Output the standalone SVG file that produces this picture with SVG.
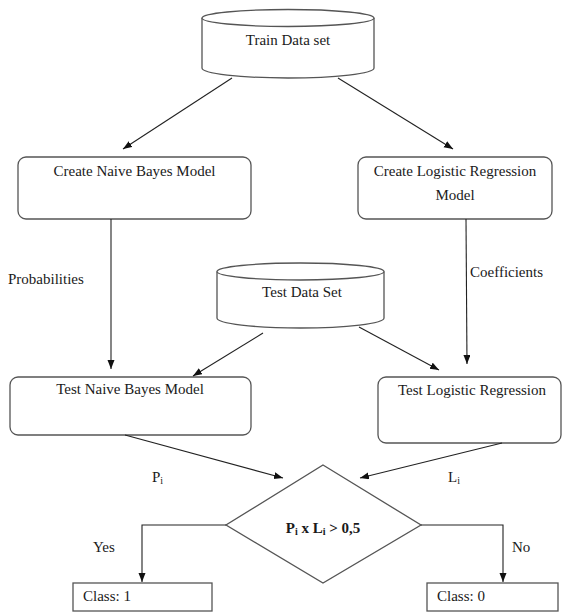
<svg xmlns="http://www.w3.org/2000/svg" width="563" height="612" viewBox="0 0 563 612">
<defs>
<marker id="arr" markerUnits="userSpaceOnUse" markerWidth="10" markerHeight="8" refX="9" refY="3.5" orient="auto">
<path d="M0,0 L9,3.5 L0,7 z" fill="#111"/>
</marker>
<style>
text{font-family:"Liberation Serif","Times New Roman",serif;font-size:15px;fill:#1a1a1a}
.box{fill:#fff;stroke:#555;stroke-width:1.3}
.ln{fill:none;stroke:#222;stroke-width:1.1}
.arrow{fill:none;stroke:#222;stroke-width:1.1;marker-end:url(#arr)}
.mid{text-anchor:middle}
.sub{font-size:10px}
</style>
</defs>
<rect width="563" height="612" fill="#fff"/>

<g id="train">
<path class="box" d="M202,18 L202,68 A86,10 0 0 0 374,68 L374,18"/>
<ellipse class="box" cx="288" cy="18" rx="86" ry="8.5"/>
<text class="mid" x="288" y="45">Train Data set</text>
</g>

<g id="create-nb">
<rect class="box" x="18" y="157" width="233" height="62" rx="8"/>
<text class="mid" x="134.5" y="176">Create Naive Bayes Model</text>
</g>

<g id="create-lr">
<rect class="box" x="358" y="157" width="194" height="62" rx="8"/>
<text class="mid" x="455" y="176">Create Logistic Regression</text>
<text class="mid" x="455" y="200">Model</text>
</g>

<g id="test-data">
<path class="box" d="M217,271.5 L217,318 A83.5,10 0 0 0 384,318 L384,271.5"/>
<ellipse class="box" cx="300.5" cy="271.5" rx="83.5" ry="8.5"/>
<text class="mid" x="302" y="297">Test Data Set</text>
</g>

<g id="test-nb">
<rect class="box" x="10" y="377" width="241" height="58" rx="8"/>
<text class="mid" x="130" y="394">Test Naive Bayes Model</text>
</g>

<g id="test-lr">
<rect class="box" x="378" y="377" width="183" height="66" rx="8"/>
<text class="mid" x="472" y="395">Test Logistic Regression</text>
</g>

<g id="decision">
<polygon class="box" points="323,465 421,525 323,583 226,525"/>
<text class="mid" x="323" y="533" font-weight="bold">P<tspan class="sub" dy="2">i</tspan><tspan dy="-2"> x L</tspan><tspan class="sub" dy="2">i</tspan><tspan dy="-2"> &gt; 0,5</tspan></text>
</g>

<g id="class1">
<rect class="box" x="73" y="583" width="139" height="28"/>
<text x="83" y="601">Class: 1</text>
</g>

<g id="class0">
<rect class="box" x="427" y="583" width="131" height="28"/>
<text x="437" y="601">Class: 0</text>
</g>

<g id="connectors">
<line class="arrow" x1="232" y1="78" x2="123" y2="149"/>
<line class="arrow" x1="338" y1="78" x2="453" y2="149"/>
<line class="arrow" x1="111" y1="219" x2="111" y2="369"/>
<line class="arrow" x1="466" y1="219" x2="467" y2="364"/>
<line class="arrow" x1="263" y1="333" x2="193" y2="376"/>
<line class="arrow" x1="359" y1="327" x2="439" y2="370"/>
<line class="arrow" x1="125" y1="435" x2="283" y2="478"/>
<line class="arrow" x1="502" y1="443" x2="360" y2="478"/>
<polyline class="arrow" points="226,525 142,525 142,582"/>
<polyline class="arrow" points="421,525 503,525 503,582"/>
</g>

<g id="labels">
<text x="8" y="284">Probabilities</text>
<text x="470" y="277">Coefficients</text>
<text x="152" y="482">P<tspan class="sub" dy="2">i</tspan></text>
<text x="448" y="482">L<tspan class="sub" dy="2">i</tspan></text>
<text x="93" y="552">Yes</text>
<text x="512" y="552">No</text>
</g>
</svg>
